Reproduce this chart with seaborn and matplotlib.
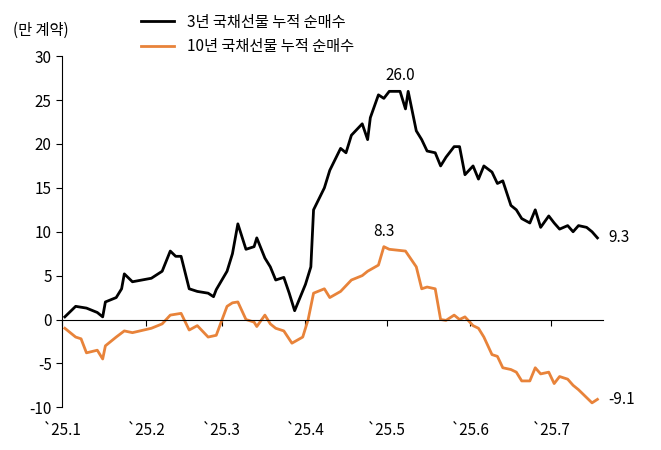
import matplotlib
matplotlib.use("Agg")
import matplotlib.pyplot as plt
from matplotlib import font_manager
import seaborn as sns
import pandas as pd

names = {f.name for f in font_manager.fontManager.ttflist}
cands = [n for n in ["Noto Sans CJK KR", "Noto Sans CJK JP", "Noto Sans CJK SC", "Noto Sans CJK TC"] if n in names]
plt.rcParams["font.family"] = cands + ["DejaVu Sans"]
plt.rcParams["axes.unicode_minus"] = False

d3 = ["01-02","01-06","01-10","01-14","01-16","01-17","01-21","01-23","01-24","01-27","02-03","02-07","02-10","02-12","02-14","02-17","02-20","02-24","02-26","02-27","03-03","03-05","03-07","03-10","03-13","03-14","03-17","03-19","03-21","03-24","03-26","03-28","04-01","04-03","04-04","04-08","04-10","04-14","04-16","04-18","04-22","04-24","04-25","04-28","04-30","05-02","05-06","05-08","05-09","05-12","05-14","05-16","05-19","05-21","05-23","05-26","05-28","05-30","06-02","06-04","06-06","06-09","06-11","06-13","06-16","06-18","06-20","06-23","06-25","06-27","06-30","07-02","07-04","07-07","07-09","07-11","07-14","07-16","07-18"]
v3 = [0.3,1.5,1.3,0.8,0.3,2,2.5,3.5,5.2,4.3,4.7,5.5,7.8,7.2,7.2,3.5,3.2,3,2.6,3.4,5.5,7.5,10.9,8,8.3,9.3,7,6,4.5,4.8,3,1,4,6,12.5,15,17,19.5,19,21,22.3,20.5,23,25.6,25.2,26,26.0,24,26,21.5,20.5,19.2,19,17.5,18.5,19.7,19.7,16.5,17.5,16,17.5,16.8,15.5,15.8,13,12.5,11.5,11,12.5,10.5,11.8,11,10.3,10.7,10,10.7,10.5,10,9.3]

d10 = ["01-02","01-06","01-08","01-10","01-14","01-16","01-17","01-21","01-24","01-27","02-03","02-07","02-10","02-14","02-17","02-20","02-24","02-27","03-03","03-05","03-07","03-10","03-13","03-14","03-17","03-19","03-21","03-24","03-27","03-31","04-02","04-04","04-08","04-10","04-14","04-18","04-22","04-24","04-28","04-30","05-02","05-08","05-12","05-14","05-16","05-19","05-21","05-23","05-26","05-28","05-30","06-02","06-04","06-06","06-09","06-11","06-13","06-16","06-18","06-20","06-23","06-25","06-27","06-30","07-02","07-04","07-07","07-09","07-11","07-16","07-18"]
v10 = [-1,-2,-2.2,-3.8,-3.5,-4.5,-3,-2,-1.3,-1.5,-1,-0.5,0.5,0.7,-1.2,-0.7,-2,-1.8,1.5,1.9,2.0,0,-0.3,-0.8,0.5,-0.5,-1,-1.3,-2.7,-2,0,3,3.5,2.5,3.2,4.5,5,5.5,6.2,8.3,8,7.8,6,3.5,3.7,3.5,0,-0.1,0.5,0,0.3,-0.7,-1,-2,-4,-4.2,-5.5,-5.7,-6,-7,-7,-5.5,-6.2,-6,-7.3,-6.5,-6.8,-7.5,-8,-9.5,-9.1]

ticks = ["`25.1","`25.2","`25.3","`25.4","`25.5","`25.6","`25.7"]
series = ["3년 국채선물 누적 순매수", "10년 국채선물 누적 순매수"]

df = pd.concat([
    pd.DataFrame({"date": pd.to_datetime(["2025-" + d for d in d3]), "v": v3, "s": series[0]}),
    pd.DataFrame({"date": pd.to_datetime(["2025-" + d for d in d10]), "v": v10, "s": series[1]}),
])

fig, ax = plt.subplots(figsize=(6.61, 4.5), dpi=100)
fig.subplots_adjust(left=0.094, right=0.912, top=0.875, bottom=0.095)
sns.lineplot(data=df, x="date", y="v", hue="s", palette=["#000000", "#E8833A"],
             linewidth=2, ax=ax)
ax.set_xlim(pd.Timestamp("2025-01-01"), pd.Timestamp("2025-07-20"))
ax.set_ylim(-10, 30)
ax.set_yticks(range(-10, 31, 5))
tpos = [pd.Timestamp(f"2025-{m:02d}-01") for m in range(1, 8)]
ax.set_xticks(tpos)
ax.set_xticklabels(ticks)
ax.spines[["top", "right"]].set_visible(False)
ax.spines["bottom"].set_position(("data", 0))
ax.tick_params(axis="x", length=4, direction="out", pad=70, labelsize=11)
ax.tick_params(axis="y", length=4, labelsize=11)
ax.set_xlabel(""); ax.set_ylabel("")
ax.text(-0.09, 1.06, "(만 계약)", transform=ax.transAxes, fontsize=11)
leg = ax.legend(title=None, frameon=False, loc="upper left", bbox_to_anchor=(0.12, 1.16), fontsize=11, handlelength=2.2)
ax.annotate("26.0", (pd.Timestamp("2025-05-06"), 26), xytext=(0, 8), textcoords="offset points", ha="center", fontsize=11)
ax.annotate("8.3", (pd.Timestamp("2025-04-30"), 8.3), xytext=(0, 8), textcoords="offset points", ha="center", fontsize=11)
ax.annotate("9.3", (pd.Timestamp("2025-07-18"), 9.3), xytext=(8, 0), textcoords="offset points", va="center", fontsize=11)
ax.annotate("-9.1", (pd.Timestamp("2025-07-18"), -9.1), xytext=(8, 0), textcoords="offset points", va="center", fontsize=11)
fig.savefig("out.png", dpi=100)
